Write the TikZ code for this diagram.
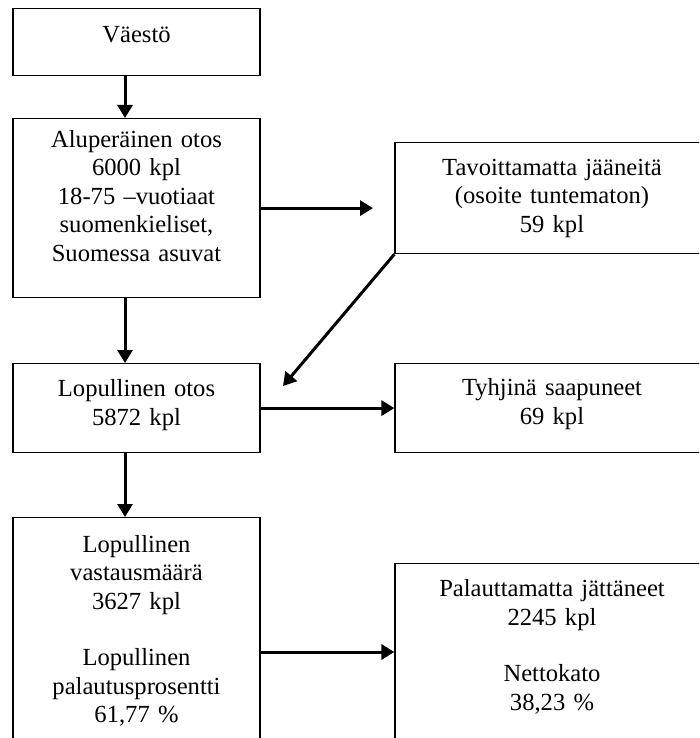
\documentclass[tikz,border=0pt]{standalone}
\usepackage{fontspec}
\setmainfont{Liberation Serif}
\usetikzlibrary{arrows.meta, calc}

\begin{document}
\begin{tikzpicture}[
        x=1pt, y=-1pt,
        box/.style={
            draw, line width=1.2pt, anchor=north,
            inner xsep=0pt, inner ysep=0pt, align=center,
            font=\fontsize{24.6}{28.4}\selectfont
        },
        flow/.style={line width=3pt, -{Triangle[length=13pt, width=15pt]}}
    ]

    \pgfmathsetmacro{\leftw}{247}
    \pgfmathsetmacro{\rightw}{314}

    \useasboundingbox (0,0) rectangle (699,738);
    \clip (0,0) rectangle (699,738);

    \coordinate (spine) at (125,0);
    \coordinate (tavgap) at (373,0);
    \coordinate (tip) at (283,386);
    \coordinate (lowarrow) at (0,652);

    % left column
    \node[box, text width=\leftw pt, text height=33.7pt, text depth=33.3pt] (vaesto) at (136.5,8) {Väestö};
    \node[box, text width=\leftw pt, text height=29pt, text depth=150pt] (alu) at (136.5,118)
        {Aluperäinen otos\\6000 kpl\\18-75 –vuotiaat\\suomenkieliset,\\Suomessa asuvat};
    \node[box, text width=\leftw pt, text height=33pt, text depth=56pt] (lop) at (136.5,363)
        {Lopullinen otos\\5872 kpl};
    \node[box, text width=\leftw pt, text height=34.7pt, text depth=300pt] (vast) at (136.5,517)
        {Lopullinen\\vastausmäärä\\3627 kpl\\[28.4pt]Lopullinen\\palautusprosentti\\61,77 \%};

    % right column
    \node[box, text width=\rightw pt, text height=33pt, text depth=78pt] (tav) at (552,142)
        {Tavoittamatta jääneitä\\(osoite tuntematon)\\59 kpl};
    \node[box, text width=\rightw pt, text height=32pt, text depth=57pt] (tyh) at (552,363)
        {Tyhjinä saapuneet\\69 kpl};
    \node[box, text width=\rightw pt, text height=33pt, text depth=300pt] (pal) at (552,563)
        {Palauttamatta jättäneet\\2245 kpl\\[28.4pt]Nettokato\\38,23 \%};

    \draw[flow] (vaesto.south -| spine) -- (alu.north -| spine);
    \draw[flow] (alu.east) -- (alu.east -| tavgap);
    \draw[flow] (alu.south -| spine) -- (lop.north -| spine);
    \draw[flow] (tav.south west) -- (tip);
    \draw[flow] (lop.east) -- (tyh.west);
    \draw[flow] (lop.south -| spine) -- (vast.north -| spine);
    \draw[flow] (vast.east |- lowarrow) -- (pal.west |- lowarrow);
\end{tikzpicture}
\end{document}
